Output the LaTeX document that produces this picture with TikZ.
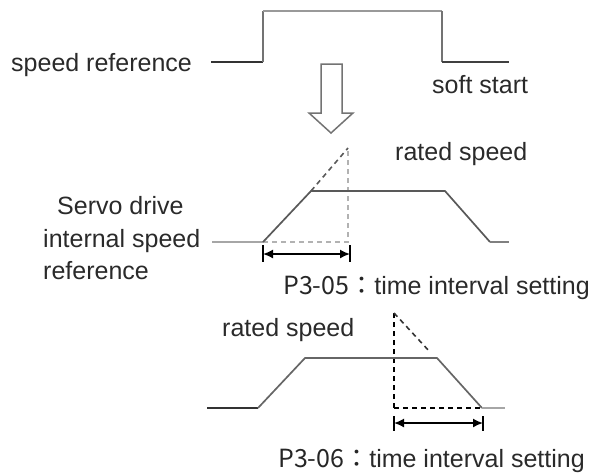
\documentclass[tikz,border=0pt]{standalone}
\usepackage{fontspec}
\setmainfont{Liberation Sans}
\newfontfamily\cjk{Noto Sans CJK JP}
\usetikzlibrary{arrows.meta}
\definecolor{txt}{HTML}{2A2A2A}
\tikzset{
  lbl/.style={inner sep=0pt, anchor=base west, font=\fontsize{25}{30}\selectfont, text=txt},
  wave/.style={line width=1.7pt, line join=miter},
  dsh/.style={line width=1.6pt, dash pattern=on 5pt off 4pt},
  tick/.style={line width=1.4pt, black},
  dim/.style={line width=1.6pt, black, {Latex[length=10pt,width=9pt]}-{Latex[length=10pt,width=9pt]}},
}
\begin{document}
\begin{tikzpicture}[x=1pt,y=-1pt]
\useasboundingbox (0,0) rectangle (596,474);
% ---------- top: speed reference ----------
\node[lbl] (sref) at (11,71) {speed reference};
\coordinate (a0) at (211,62);
\coordinate (a1) at (263,62);
\coordinate (a2) at (263,11);
\coordinate (a3) at (442,11);
\coordinate (a4) at (442,62);
\coordinate (a5) at (509,62);
\draw[wave, color=black!80] (a0) -- (a1);
\draw[wave, color=black!55] (a1) -- (a2);
\draw[wave, color=black!40] (a2) -- (a3);
\draw[wave, color=black!55] (a3) -- (a4);
\draw[wave, color=black!75] (a4) -- (a5);
\node[lbl] (soft) at (432,93) {soft start};
% hollow arrow
\draw[line width=1.5pt, color=black!55, line join=miter]
  (321,64) -- (342,64) -- (342,113) -- (353,113) -- (331,133) -- (309,113) -- (321,113) -- cycle;
% ---------- middle: internal speed reference ----------
\node[lbl] (rs1) at (395,160) {rated speed};
\node[lbl] (sd1) at (57,214) {Servo drive};
\node[lbl] (sd2) at (43,247) {internal speed};
\node[lbl] (sd3) at (43,279) {reference};
\coordinate (b0) at (212,242);
\coordinate (b1) at (263,242);
\coordinate (b2) at (311,191);
\coordinate (b3) at (445,191);
\coordinate (b4) at (490,242);
\coordinate (b5) at (509,242);
\coordinate (bp) at (348,148);
\coordinate (bq) at (348,242);
\draw[wave, color=black!35] (b0) -- (b1);
\draw[dsh, color=black!30] (b1) -- (bq) -- (bp);
\draw[dsh, color=black!65] (b2) -- (bp);
\draw[wave, color=black!65] (b1) -- (b2) -- (b3) -- (b4);
\draw[wave, color=black!50] (b4) -- (b5);
\coordinate (t1a) at (263,245);
\coordinate (t1b) at (263,262);
\coordinate (t2a) at (350,245);
\coordinate (t2b) at (350,262);
\draw[tick] (t1a) -- (t1b);
\draw[tick] (t2a) -- (t2b);
\coordinate (d1a) at (263,254);
\coordinate (d1b) at (350,254);
\draw[dim] (d1a) -- (d1b);
\node[lbl] (p305) at (283,294) {{\cjk\color{black!85}P3-05：}time interval setting};
% ---------- bottom: deceleration ----------
\node[lbl] (rs2) at (222,336) {rated speed};
\coordinate (c0) at (207,408);
\coordinate (c1) at (258,408);
\coordinate (c2) at (305,358);
\coordinate (c3) at (437,358);
\coordinate (c4) at (482,408);
\coordinate (c5) at (505,408);
\coordinate (cp) at (394,313);
\coordinate (cq) at (394,408);
\coordinate (cr) at (430,352);
\draw[dsh, color=black] (cq) -- (cp);
\draw[dsh, color=black!80] (cp) -- (cr);
\draw[dsh, color=black] (cq) -- (c4);
\draw[wave, color=black!80] (c0) -- (c1);
\draw[wave, color=black!60] (c1) -- (c2) -- (c3) -- (c4);
\draw[wave, color=black!35] (c4) -- (c5);
\coordinate (t3a) at (394,416);
\coordinate (t3b) at (394,431);
\coordinate (t4a) at (483,416);
\coordinate (t4b) at (483,431);
\draw[tick] (t3a) -- (t3b);
\draw[tick] (t4a) -- (t4b);
\coordinate (d2a) at (394,423);
\coordinate (d2b) at (483,423);
\draw[dim] (d2a) -- (d2b);
\node[lbl] (p306) at (278,467) {{\cjk\color{black!85}P3-06：}time interval setting};
\end{tikzpicture}
\end{document}
